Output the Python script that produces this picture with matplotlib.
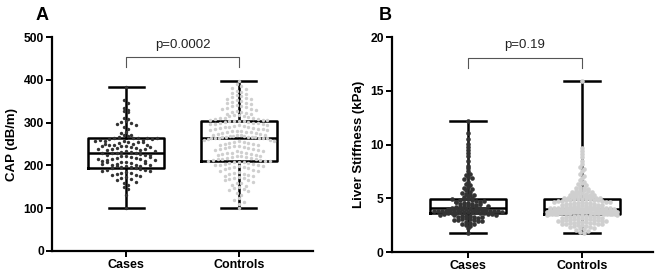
import matplotlib
matplotlib.use("Agg")
import matplotlib.pyplot as plt
import numpy as np

plt.rcParams['font.family'] = ['Liberation Sans', 'DejaVu Sans']

categories = ["Cases", "Controls"]

# Panel A: CAP (dB/m)
cap_cases = [383, 352, 345, 335, 330, 328, 325, 310, 308, 305, 302, 300, 298, 295, 290, 285, 278, 275,
             270, 268, 266, 265, 265, 264, 262, 260, 258, 256, 255, 252, 250,
             248, 246, 245, 243, 241, 240, 238, 236, 235, 233, 232, 231, 230,
             272, 263, 259, 254, 247, 239,
             262, 258, 255, 250, 245, 242, 238, 234, 264, 248,
             229, 228, 226, 225, 224, 222, 221, 220, 218, 217, 215, 214, 212, 211, 210, 208, 207, 205, 204,
             202, 200, 199, 198, 197, 196, 228, 224, 219, 216, 213, 209, 206, 203, 201, 198,
             194, 193, 192, 190, 190, 188, 186, 185, 183, 182, 180, 178, 177, 175, 172, 170, 168, 165, 162,
             158, 155, 150, 145, 130, 100]
cap_controls = [397, 390, 385, 380, 378, 375, 372, 370, 368, 365, 362, 360, 358, 356, 355, 353, 350, 348,
                346, 345, 343, 341, 340, 338, 336, 335, 333, 331, 330, 328, 326, 325, 323, 321, 320, 318,
                317, 316, 315, 314, 312, 311, 310, 309, 308, 307, 306, 306, 305, 305,
                304, 303, 302, 301, 300, 300, 299, 298, 297, 296, 295, 294, 293, 292, 291, 290, 289, 288,
                287, 286, 285, 284, 283, 282, 281, 280, 280, 279, 278, 277, 276, 275, 274, 273, 272, 271,
                270, 270, 269, 268, 268, 267, 267, 266, 266, 266, 265, 265, 265, 265,
                264, 263, 262, 260, 259, 258, 257, 255, 254, 253, 252, 250, 249, 248, 247, 246, 245, 244,
                242, 241, 240, 239, 238, 236, 235, 234, 233, 232, 230, 229, 228, 227, 226, 225, 224, 223,
                222, 221, 220, 219, 218, 217, 216, 215, 214, 213, 212, 211, 211, 210,
                209, 208, 207, 206, 205, 204, 203, 202, 201, 200, 199, 198, 197, 196, 195, 194, 192, 190,
                188, 186, 185, 183, 181, 180, 178, 176, 175, 173, 171, 170, 168, 166, 165, 162, 160, 158,
                155, 152, 150, 147, 145, 142, 140, 135, 130, 125, 120, 115, 110, 100]
cap_q1 = [195, 210]
cap_med = [230, 265]
cap_q3 = [265, 305]
cap_min = [100, 100]
cap_max = [383, 397]
cap_p = "p=0.0002"

# Panel B: Liver stiffness (kPa)
ls_cases = [12.2, 11.1, 10.5, 10.1, 9.8, 9.5, 9.2, 8.9, 8.5, 8.0, 7.8, 7.5, 7.2, 7.0, 6.8, 6.5, 6.3, 6.1,
            6.0, 5.8, 5.6, 5.4, 5.3, 5.2, 5.1, 7.3, 6.9, 6.2, 5.9, 5.5, 5.3,
            5.0, 4.95, 4.9, 4.85, 4.8, 4.75, 4.7, 4.65, 4.6, 4.55, 4.5, 4.45, 4.4, 4.35, 4.3, 4.25, 4.2,
            4.2, 4.15, 4.1, 4.1, 4.05, 4.05, 4.0, 4.0, 4.92, 4.78, 4.62, 4.48, 4.33,
            3.98, 3.96, 3.95, 3.94, 3.92, 3.9, 3.9, 3.88, 3.86, 3.85, 3.84, 3.82, 3.8, 3.8, 3.78, 3.76,
            3.75, 3.74, 3.72, 3.7, 3.7, 3.68, 3.66, 3.65, 3.62,
            3.6, 3.58, 3.55, 3.5, 3.48, 3.45, 3.4, 3.38, 3.35, 3.3, 3.25, 3.2, 3.15, 3.1, 3.05, 3.0,
            2.95, 2.9, 2.8, 2.7, 2.6, 2.5, 2.4, 2.2, 1.8, 3.42, 3.22, 3.02, 2.85, 2.65]
ls_controls = [15.9, 9.7, 9.4, 9.1, 8.8, 8.5, 8.2, 7.9, 7.7, 7.5, 7.3, 7.1, 6.9, 6.7, 6.5, 6.4, 6.3, 6.2,
               6.1, 6.0, 6.0, 5.9, 5.8, 5.8, 5.7, 5.7, 5.6, 5.6, 5.5, 5.5, 5.4, 5.4, 5.3, 5.3, 5.3, 5.2,
               5.2, 5.2, 5.1, 5.1, 5.1, 5.0, 5.0, 5.0, 5.0, 4.95, 4.95, 4.9, 4.9, 4.9,
               4.88, 4.85, 4.82, 4.8, 4.78, 4.75, 4.72, 4.7, 4.68, 4.65, 4.62, 4.6, 4.58, 4.55, 4.52,
               4.5, 4.48, 4.45, 4.42, 4.4, 4.38, 4.35, 4.32, 4.3, 4.28, 4.25, 4.22, 4.2, 4.18, 4.16,
               4.14, 4.12, 4.1, 4.09, 4.08, 4.07, 4.06, 4.05, 4.04, 4.03, 4.02, 4.02, 4.01, 4.01, 4.0,
               4.0, 4.0, 4.0, 4.0, 4.0,
               3.99, 3.98, 3.97, 3.96, 3.95, 3.94, 3.93, 3.92, 3.91, 3.90, 3.89, 3.88, 3.87, 3.86, 3.85,
               3.84, 3.83, 3.82, 3.81, 3.80, 3.79, 3.78, 3.77, 3.76, 3.75, 3.74, 3.73, 3.72, 3.71, 3.70,
               3.69, 3.68, 3.67, 3.66, 3.65, 3.64, 3.63, 3.62, 3.61, 3.60, 3.59, 3.58, 3.57, 3.56, 3.55,
               3.54, 3.53, 3.52, 3.51, 3.50,
               3.48, 3.45, 3.42, 3.4, 3.38, 3.35, 3.32, 3.3, 3.28, 3.25, 3.22, 3.2, 3.18, 3.15, 3.12,
               3.1, 3.08, 3.05, 3.02, 3.0, 2.98, 2.95, 2.92, 2.9, 2.88, 2.85, 2.82, 2.8, 2.78, 2.75,
               2.72, 2.7, 2.68, 2.65, 2.62, 2.6, 2.58, 2.55, 2.5, 2.45, 2.4, 2.35, 2.3, 2.25, 2.2,
               2.15, 2.1, 2.0, 1.9, 1.8]
ls_q1 = [3.6, 3.5]
ls_med = [4.1, 4.0]
ls_q3 = [4.95, 4.9]
ls_min = [1.8, 1.8]
ls_max = [12.2, 15.9]
ls_p = "p=0.19"

point_colors = ["#333333", "#cfcfcf"]


def swarm_offsets(vals, binh, dx, maxw):
    vals = np.asarray(vals, dtype=float)
    bins = np.round(vals / binh).astype(int)
    offs = np.zeros(len(vals))
    for b in np.unique(bins):
        idx = np.where(bins == b)[0]
        n = len(idx)
        step = dx
        if n > 1 and (n - 1) * dx > maxw:
            step = maxw / (n - 1)
        pos = (np.arange(n) - (n - 1) / 2.0) * step
        order = np.argsort(np.abs(pos), kind="stable")
        offs[idx] = pos[order]
    return offs


def panel(ax, groups, q1, med, q3, lo, hi, ylim, yticks, ylabel, ptext, pbar,
          binh, dx, maxw, msize, xlim):
    stats = []
    for i in range(len(categories)):
        stats.append(dict(med=med[i], q1=q1[i], q3=q3[i], whislo=lo[i], whishi=hi[i], fliers=[]))
    lw = 1.8
    ax.bxp(stats, positions=[0, 1], widths=0.67, showfliers=False, patch_artist=False,
           boxprops=dict(color="black", linewidth=lw),
           medianprops=dict(color="black", linewidth=lw),
           whiskerprops=dict(color="black", linewidth=lw),
           capprops=dict(color="black", linewidth=lw),
           capwidths=0.31, zorder=2)
    for i, g in enumerate(groups):
        xo = swarm_offsets(g, binh, dx, maxw) + i
        ax.scatter(xo, g, s=msize, color=point_colors[i], zorder=3, linewidths=0)
    y1, y2 = pbar
    ax.plot([0, 0, 1, 1], [y2, y1, y1, y2], color="#555555", lw=0.8, zorder=4)
    ax.text(0.5, y1 + (ylim[1] - ylim[0]) * 0.03, ptext, ha="center", va="bottom",
            fontsize=9.5, color="#222222")
    ax.set_xlim(*xlim)
    ax.set_ylim(*ylim)
    ax.set_yticks(yticks)
    ax.set_xticks([0, 1])
    ax.set_xticklabels(categories, fontweight="bold", fontsize=9)
    for lab in ax.get_yticklabels():
        lab.set_fontweight("bold")
        lab.set_fontsize(8.7)
    ax.set_ylabel(ylabel, fontweight="bold", fontsize=9.5, labelpad=4)
    ax.spines["top"].set_visible(False)
    ax.spines["right"].set_visible(False)
    ax.spines["left"].set_linewidth(1.6)
    ax.spines["bottom"].set_linewidth(1.6)
    ax.tick_params(axis="both", direction="out", length=4, width=1.4, pad=2)
    ax.spines["left"].set_zorder(5)
    ax.spines["bottom"].set_zorder(5)


fig = plt.figure(figsize=(6.6, 2.77), dpi=100)
axA = fig.add_axes([0.079, 0.094, 0.395, 0.772])
axB = fig.add_axes([0.594, 0.090, 0.395, 0.776])

panel(axA, [cap_cases, cap_controls], cap_q1, cap_med, cap_q3, cap_min, cap_max,
      (0, 500), [0, 100, 200, 300, 400, 500], "CAP (dB/m)", cap_p, (453, 430),
      12.0, 0.042, 0.62, 6, (-0.655, 1.655))
panel(axB, [ls_cases, ls_controls], ls_q1, ls_med, ls_q3, ls_min, ls_max,
      (0, 20), [0, 5, 10, 15, 20], "Liver Stiffness (kPa)", ls_p, (18.1, 17.1),
      0.3, 0.035, 0.62, 11, (-0.667, 1.62))

fig.text(0.054, 0.975, "A", fontsize=13, fontweight="bold", va="top", ha="left")
fig.text(0.574, 0.975, "B", fontsize=13, fontweight="bold", va="top", ha="left")

fig.savefig("out.png", dpi=100)
